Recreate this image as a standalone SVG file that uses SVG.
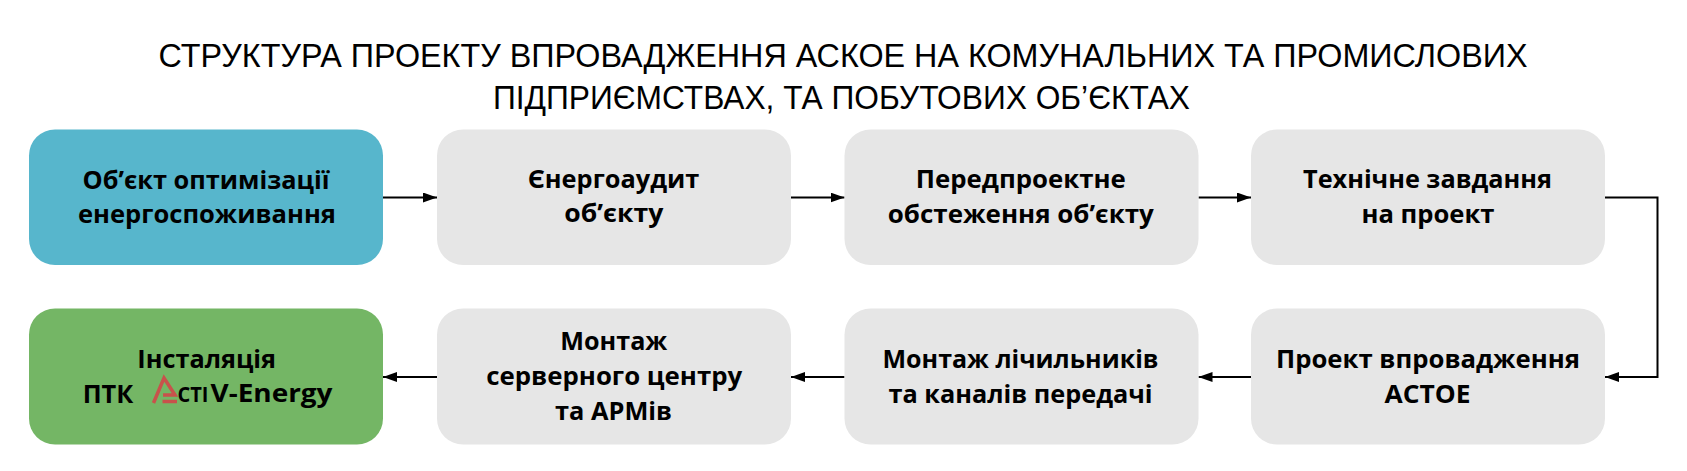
<svg xmlns="http://www.w3.org/2000/svg" width="1687" height="471" viewBox="0 0 1687 471">
<style>
.box{fill:#e6e6e6}
.blue{fill:#57b6cc}
.green{fill:#74b665}
.t{font-family:"Open Sans","Liberation Sans",sans-serif;font-weight:700;font-size:25px;fill:#000;text-anchor:middle}
.tl{font-family:"Open Sans","Liberation Sans",sans-serif;font-weight:700;font-size:25px;fill:#000}
.title{font-family:"Liberation Sans",Arial,sans-serif;font-weight:400;font-size:34px;fill:#000;text-anchor:middle}
.c{fill:none;stroke:#000;stroke-width:2;marker-end:url(#ah)}
.logo{fill:none;stroke:#c8524b;stroke-width:3.5;stroke-linejoin:miter}
</style>
<defs>
<marker id="ah" markerUnits="userSpaceOnUse" markerWidth="14" markerHeight="10" refX="14" refY="5" orient="auto">
<path d="M0,0 L14,5 L0,10 z" fill="#000"/>
</marker>
</defs>
<rect width="1687" height="471" fill="#fff"/>
<g id="title">
<text class="title" x="843" y="67" textLength="1369" lengthAdjust="spacingAndGlyphs">СТРУКТУРА ПРОЕКТУ ВПРОВАДЖЕННЯ АСКОЕ НА КОМУНАЛЬНИХ ТА ПРОМИСЛОВИХ</text>
<text class="title" x="841.5" y="108.5" textLength="697" lengthAdjust="spacingAndGlyphs">ПІДПРИЄМСТВАХ, ТА ПОБУТОВИХ ОБ’ЄКТАХ</text>
</g>
<g id="connectors">
<path class="c" d="M383,197.5 H437"/>
<path class="c" d="M791,197.5 H844.5"/>
<path class="c" d="M1198.5,197.5 H1251"/>
<path class="c" d="M1605,197.5 H1657.5 V377 H1605"/>
<path class="c" d="M1251,377 H1198.5"/>
<path class="c" d="M844.5,377 H791"/>
<path class="c" d="M437,377 H383"/>
</g>
<g id="n1">
<rect class="blue" x="29" y="129.5" width="354" height="135.5" rx="26"/>
<text class="t" x="206" y="188.5" textLength="247" lengthAdjust="spacingAndGlyphs">Об’єкт оптимізації</text>
<text class="t" x="207" y="223" textLength="258" lengthAdjust="spacingAndGlyphs">енергоспоживання</text>
</g>
<g id="n2">
<rect class="box" x="437" y="129.5" width="354" height="135.5" rx="26"/>
<text class="t" x="613.5" y="188" textLength="171.6" lengthAdjust="spacingAndGlyphs">Єнергоаудит</text>
<text class="t" x="613.8" y="222" textLength="99" lengthAdjust="spacingAndGlyphs">об’єкту</text>
</g>
<g id="n3">
<rect class="box" x="844.5" y="129.5" width="354" height="135.5" rx="26"/>
<text class="t" x="1020.8" y="188" textLength="210" lengthAdjust="spacingAndGlyphs">Передпроектне</text>
<text class="t" x="1020.8" y="222.5" textLength="266" lengthAdjust="spacingAndGlyphs">обстеження об’єкту</text>
</g>
<g id="n4">
<rect class="box" x="1251" y="129.5" width="354" height="135.5" rx="26"/>
<text class="t" x="1427.5" y="188.3" textLength="249" lengthAdjust="spacingAndGlyphs">Технічне завдання</text>
<text class="t" x="1428" y="223" textLength="133" lengthAdjust="spacingAndGlyphs">на проект</text>
</g>
<g id="n5">
<rect class="box" x="1251" y="308.5" width="354" height="136" rx="26"/>
<text class="t" x="1428" y="368.3" textLength="304" lengthAdjust="spacingAndGlyphs">Проект впровадження</text>
<text class="t" x="1427.5" y="403.3" textLength="86" lengthAdjust="spacingAndGlyphs">АСТОЕ</text>
</g>
<g id="n6">
<rect class="box" x="844.5" y="308.5" width="354" height="136" rx="26"/>
<text class="t" x="1020.5" y="368.3" textLength="276" lengthAdjust="spacingAndGlyphs">Монтаж лічильників</text>
<text class="t" x="1020.5" y="402.8" textLength="264" lengthAdjust="spacingAndGlyphs">та каналів передачі</text>
</g>
<g id="n7">
<rect class="box" x="437" y="308.5" width="354" height="136" rx="26"/>
<text class="t" x="613.8" y="350" textLength="107" lengthAdjust="spacingAndGlyphs">Монтаж</text>
<text class="t" x="614.2" y="385" textLength="256" lengthAdjust="spacingAndGlyphs">серверного центру</text>
<text class="t" x="613.5" y="419.5" textLength="117" lengthAdjust="spacingAndGlyphs">та АРМів</text>
</g>
<g id="n8">
<rect class="green" x="29" y="308.5" width="354" height="136" rx="26"/>
<text class="t" x="206.7" y="367.5" textLength="138.7" lengthAdjust="spacingAndGlyphs">Інсталяція</text>
<text class="tl" x="82.7" y="402.8" textLength="50.7" lengthAdjust="spacingAndGlyphs">ПТК</text>
<g id="logo">
<path class="logo" d="M153.5,403 L164,378 L175,395 H163"/>
<path class="logo" d="M162.5,401.5 H177"/>
</g>
<text class="tl" x="177.5" y="402.3" style="font-size:20.5px" textLength="31" lengthAdjust="spacingAndGlyphs">CTI</text>
<text class="tl" x="210.5" y="402.3" textLength="122" lengthAdjust="spacingAndGlyphs">V-Energy</text>
</g>
</svg>
